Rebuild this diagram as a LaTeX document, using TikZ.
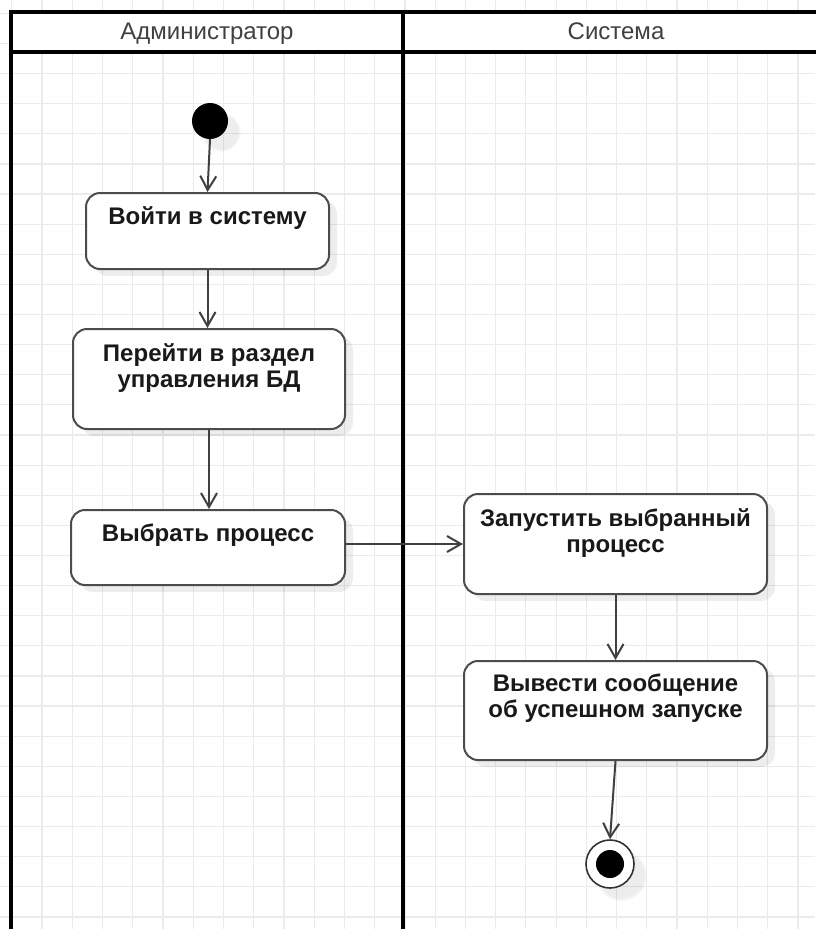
\documentclass[tikz,border=0pt]{standalone}
\usepackage{fontspec}
\setmainfont{Liberation Sans}
\usetikzlibrary{arrows.meta,calc,shadows}

\begin{document}
\begin{tikzpicture}[x=1pt,y=-1pt,
  gridline/.style={draw=black!8, line width=1.2pt},
  lane/.style={draw=black, line width=3.5pt},
  lanehead/.style={font=\fontsize{24}{26}\selectfont, text=black!75, inner sep=0pt, anchor=base},
  act/.style={draw=black!70, line width=2pt, rounded corners=14pt, fill=white,
    inner sep=0pt,
    drop shadow={shadow xshift=8pt, shadow yshift=-7pt, fill=black, opacity=0.07}},
  acttext/.style={font=\fontsize{24}{26}\selectfont\bfseries, text=black!90,
    align=center, inner sep=0pt, anchor=base},
  initial/.style={circle, fill=black, minimum size=36pt, inner sep=0pt,
    circular drop shadow={shadow xshift=10pt, shadow yshift=-10pt, fill=black, opacity=0.07}},
  final/.style={circle, draw=black!80, line width=1.6pt, fill=white, minimum size=48pt, inner sep=0pt,
    circular drop shadow={shadow xshift=10pt, shadow yshift=-10pt, fill=black, opacity=0.07}},
  finaldot/.style={circle, fill=black, minimum size=28pt, inner sep=0pt},
  flow/.style={draw=black!75, line width=2pt,
    -{Straight Barb[length=14pt, width=16pt, line width=2pt]}}
]
\useasboundingbox (0,0) rectangle (815,929);
\fill[white] (0,0) rectangle (815,929);

% background grid
\foreach \i in {0,...,26}
  \draw[gridline] ({11.8+30.24*\i},0) -- ++(0,929);
\foreach \j in {0,...,30}
  \draw[gridline] (0,{13.3+30.12*\j}) -- ++(815,0);

% swimlanes
\fill[white] (11,12) rectangle (829,52);
\draw[lane] (11,12) rectangle (829,1000);
\draw[lane] (11,52) -- (829,52);
\draw[lane] (403,12) -- (403,1000);
\node[lanehead] (h1) at (207,39) {Администратор};
\node[lanehead] (h2) at (616,39) {Система};

% activities (two-line labels are placed by the baseline of their last line)
\node[initial] (start) at (210,121) {};

\node[act, minimum width=243pt, minimum height=76pt] (b1) at (207.5,231) {};
\node[acttext] (t1) at ($(b1.north)+(0,32)$) {Войти в систему};

\node[act, minimum width=272pt, minimum height=100pt] (b2) at (209,379) {};
\node[acttext] (t2) at ($(b2.north)+(0,59)$) {Перейти в раздел\\управления БД};

\node[act, minimum width=274pt, minimum height=75pt] (b3) at (208,547.5) {};
\node[acttext] (t3) at ($(b3.north)+(0,32)$) {Выбрать процесс};

\node[act, minimum width=303pt, minimum height=100pt] (b4) at (615.5,544) {};
\node[acttext] (t4) at ($(b4.north)+(0,59)$) {Запустить выбранный\\процесс};

\node[act, minimum width=303pt, minimum height=99pt] (b5) at (615.5,710.5) {};
\node[acttext] (t5) at ($(b5.north)+(0,57)$) {Вывести сообщение\\об успешном запуске};

\node[final] (end) at (610,864) {};
\node[finaldot] (enddot) at (end.center) {};

% control flow
\draw[flow] (start.south) -- (b1.north);
\draw[flow] (b1.south) -- (b1.south |- b2.north);
\draw[flow] (b2.south) -- (b2.south |- b3.north);
\draw[flow] (b3.east |- b4.west) -- (b4.west);
\draw[flow] (b4.south) -- (b5.north);
\draw[flow] (b5.south) -- (end.north);
\end{tikzpicture}
\end{document}
